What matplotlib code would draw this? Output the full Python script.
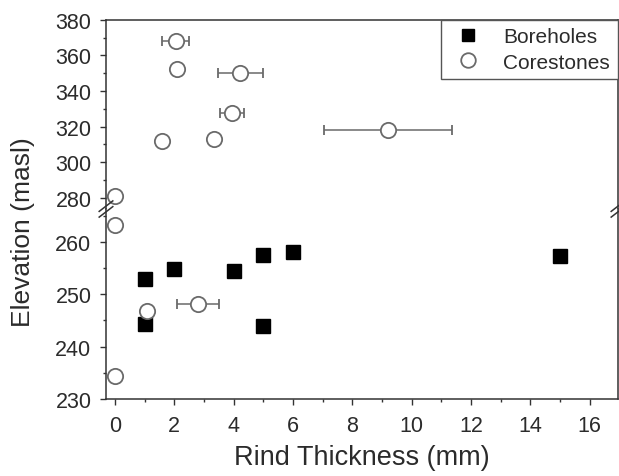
import matplotlib
matplotlib.use("Agg")
import matplotlib.pyplot as plt
from matplotlib.lines import Line2D

plt.rcParams['font.family'] = ['Liberation Sans', 'DejaVu Sans']

# Borehole samples: rind thickness (mm) vs elevation (masl)
bore_x = [1, 1, 2, 4, 5, 5, 6, 15]
bore_y = [252.9, 244.4, 254.9, 254.5, 257.5, 243.9, 258.0, 257.3]

# Corestone samples, mean thickness with spread
core_x = [2.05, 2.08, 4.23, 3.95, 1.6, 3.35, 9.2, 0.0, 0.0, 1.07, 2.8, 0.0]
core_y = [368.2, 352.3, 350.1, 327.6, 311.7, 313.0, 318.0, 280.8,
          263.3, 246.9, 248.2, 234.3]
core_err = [0.45, 0.1, 0.77, 0.4, 0.0, 0.0, 2.16, 0.0,
            0.0, 0.12, 0.7, 0.0]

upper_lim = (273.7, 380)
lower_lim = (230, 266.3)
x_lim = (-0.3, 16.95)

txt = '#2b2b2b'
gray = '#6a6a6a'

fig = plt.figure(figsize=(6.19, 4.77), dpi=100)
left, right = 106 / 619, 618 / 619
bottom, brk, top = 1 - 400 / 477, 1 - 210 / 477, 1 - 20.7 / 477
ax_top = fig.add_axes([left, brk, right - left, top - brk])
ax_bot = fig.add_axes([left, bottom, right - left, brk - bottom])

for ax in (ax_top, ax_bot):
    ax.plot(bore_x, bore_y, 's', color='black', markersize=10,
            linestyle='none', label='Boreholes', zorder=3)
    ax.errorbar(core_x, core_y, xerr=core_err, fmt='o', markersize=11,
                markerfacecolor='white', markeredgecolor=gray,
                markeredgewidth=1.3, ecolor=gray, elinewidth=1.1,
                capsize=3.5, capthick=1.1, zorder=4)
    ax.set_xlim(*x_lim)
    for s in ax.spines.values():
        s.set_color('#333333')
        s.set_linewidth(1.1)
    ax.tick_params(which='both', direction='out', colors='#333333',
                   labelcolor=txt, labelsize=15.5, width=1.0)
    ax.tick_params(which='major', length=4.5, pad=6)
    ax.tick_params(which='minor', length=2.5)

ax_top.set_ylim(*upper_lim)
ax_bot.set_ylim(*lower_lim)

ax_top.set_yticks(range(280, 381, 20))
ax_top.set_yticks(range(290, 381, 20), minor=True)
ax_bot.set_yticks(range(230, 261, 10))
ax_bot.set_yticks(range(235, 266, 10), minor=True)
ax_bot.set_xticks(range(0, 17, 2))
ax_bot.set_xticks(range(1, 17, 2), minor=True)
ax_bot.tick_params(axis='x', which='major', pad=7)

ax_top.spines['bottom'].set_visible(False)
ax_bot.spines['top'].set_visible(False)
ax_top.tick_params(axis='x', which='both', bottom=False, labelbottom=False)

fig.text((left + right) / 2, 1 - 465 / 477, 'Rind Thickness (mm)',
         fontsize=19.5, color=txt, ha='center', va='baseline')
fig.text(0.037, 1 - 232 / 477, 'Elevation (masl)', rotation=90,
         fontsize=19, color=txt, ha='center', va='center')

# axis break marks on both vertical spines
for xb in (left, right):
    for dy in (-0.006, 0.006):
        fig.add_artist(Line2D([xb - 0.011, xb + 0.011],
                              [brk + dy - 0.011, brk + dy + 0.011],
                              transform=fig.transFigure, color='#333333',
                              linewidth=1.1))

handles = [
    Line2D([], [], marker='s', color='black', linestyle='none',
           markersize=9),
    Line2D([], [], marker='o', markerfacecolor='white',
           markeredgecolor=gray, markeredgewidth=1.3, linestyle='none',
           markersize=10.5),
]
leg = fig.legend(handles, ['Boreholes', 'Corestones'],
                 loc='upper left', bbox_to_anchor=(441 / 619, 1 - 21 / 477),
                 fontsize=15, frameon=True, fancybox=False,
                 edgecolor='#555555', framealpha=1, handletextpad=0.75,
                 borderpad=0.35, labelspacing=0.3, handlelength=1.9,
                 borderaxespad=0)
for t in leg.get_texts():
    t.set_color(txt)

fig.savefig('out.png', dpi=100)
